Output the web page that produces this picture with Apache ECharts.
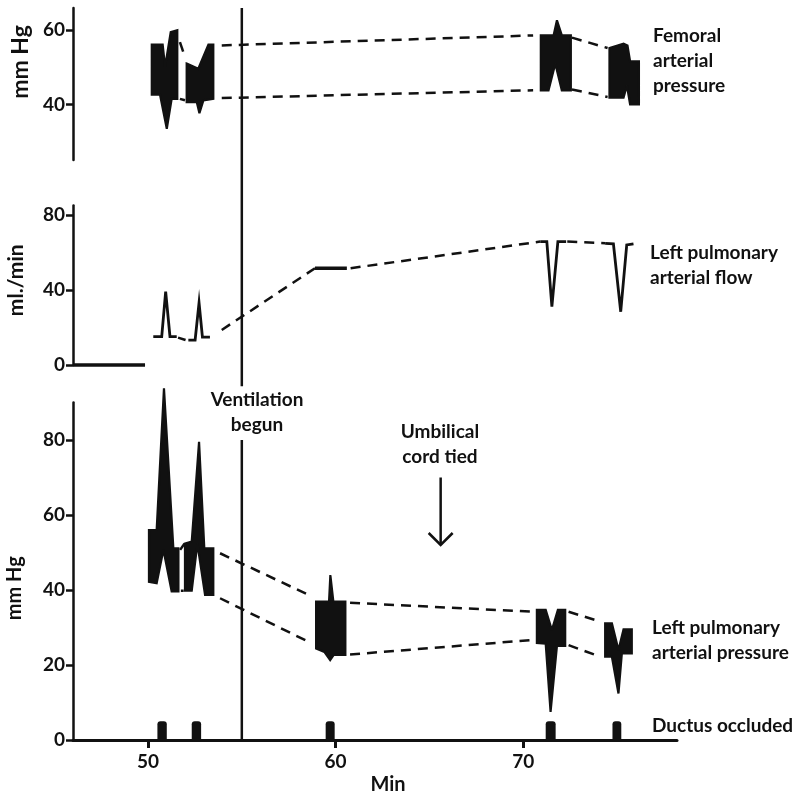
<!DOCTYPE html>
<html>
<head>
<meta charset="utf-8">
<script src="https://cdn.jsdelivr.net/npm/echarts@6/dist/echarts.min.js"></script>
<style>
  html, body { margin: 0; padding: 0; background: #fff; }
  #chart { width: 808px; height: 796px; }
</style>
</head>
<body>
<div id="chart"></div>
<script>
// time axis (min)
var timeMin = 46, timeMax = 78.2;
var timeTicks = [50, 60, 70];
var ventilationAt = 55;

// femoral arterial pressure, mm Hg: upper / lower edge of each burst
var femoralUpper = [
  [[50.2, 56.1], [50.78, 56.1], [50.91, 50.1], [51.21, 59.5], [51.56, 60]],
  [[52.06, 51.0], [52.68, 49.6], [53.22, 56.1], [53.48, 56.1]],
  [[70.94, 58.6], [71.62, 58.6], [71.8, 62.7], [72.06, 58.6], [72.54, 58.6]],
  [[74.6, 55.2], [75.35, 56.4], [75.56, 55.9], [75.7, 51.6], [76.17, 51.6]]
];
var femoralLower = [
  [[50.2, 42.6], [50.64, 42.6], [51.0, 33.4], [51.26, 41.5], [51.56, 41.5]],
  [[52.06, 40.6], [52.6, 40.6], [52.74, 37.6], [52.95, 41.1], [53.48, 41.5]],
  [[70.94, 43.8], [71.35, 43.8], [71.71, 51.0], [72.06, 43.8], [72.54, 43.8]],
  [[74.6, 41.8], [75.35, 41.8], [75.53, 45.1], [75.7, 40.0], [76.17, 40.0]]
];
var femoralDashes = [
  [[51.7, 56.8], [51.97, 52.8]],
  [[51.7, 41.5], [51.97, 41.1]],
  [[53.93, 55.9], [70.53, 58.6]],
  [[53.93, 41.7], [70.53, 43.8]],
  [[72.6, 58.0], [74.5, 55.2]],
  [[72.6, 44.0], [74.5, 42.0]]
];
var femoralTicks = [40, 60];

// left pulmonary arterial flow, ml./min
var flowSolid = [
  [[46, 0], [49.84, 0]],
  [[50.28, 15.1], [50.73, 15.1], [50.94, 39.1], [51.17, 15.1], [51.53, 15.1]],
  [[52.15, 13.3], [52.51, 13.3], [52.72, 33.2], [52.9, 14.9], [53.3, 14.9]],
  [[58.9, 51.6], [60.6, 51.6]],
  [[70.91, 65.8], [71.26, 65.8], [71.53, 31.1], [71.85, 65.8], [72.29, 65.8]],
  [[74.37, 64.9], [74.81, 64.6], [75.2, 28.4], [75.52, 64.0], [75.88, 64.6]]
];
var flowDashes = [
  [[51.6, 14.6], [52.0, 13.3]],
  [[53.93, 18.7], [58.9, 51.6]],
  [[60.8, 51.6], [70.91, 65.8]],
  [[72.35, 65.8], [74.37, 64.9]]
];
var flowTicks = [0, 40, 80];

// left pulmonary arterial pressure, mm Hg
var pulmUpper = [
  [[50.05, 56], [50.46, 56], [50.85, 93.8], [51.35, 51.1], [51.62, 51.1]],
  [[51.97, 52.4], [52.33, 52.9], [52.72, 79.5], [53.0, 51.1], [53.48, 51.1]],
  [[58.96, 36.9], [59.65, 36.9], [59.72, 44], [59.88, 36.9], [60.52, 36.9]],
  [[70.73, 34.7], [71.2, 34.7], [71.53, 29.3], [71.85, 34.7], [72.24, 34.7]],
  [[74.37, 31.1], [74.73, 31.1], [75.08, 24.0], [75.35, 29.5], [75.79, 29.5]]
];
var pulmLower = [
  [[50.05, 42.2], [50.46, 41.8], [50.82, 50.7], [51.26, 39.6], [51.62, 39.6]],
  [[51.97, 39.8], [52.33, 39.8], [52.63, 52.4], [53.04, 38.7], [53.48, 38.7]],
  [[58.96, 24.4], [59.4, 23.5], [59.71, 21.3], [59.9, 22.7], [60.52, 22.7]],
  [[70.73, 25.9], [71.2, 25.7], [71.46, 7.5], [71.8, 25.1], [72.24, 25.1]],
  [[74.37, 22.2], [74.73, 22.2], [75.08, 12.4], [75.26, 23.1], [75.79, 23.1]]
];
var pulmDashes = [
  [[51.71, 50.7], [51.95, 52.4]],
  [[51.75, 39.8], [51.9, 39.8]],
  [[53.84, 49.8], [58.55, 38.7]],
  [[53.84, 37.8], [58.55, 26.2]],
  [[60.77, 36.6], [70.55, 34.2]],
  [[60.77, 22.8], [70.55, 26.7]],
  [[72.42, 34.2], [74.11, 31.6]],
  [[72.42, 25.3], [74.11, 22.2]]
];
var pulmTicks = [0, 20, 40, 60, 80];

// ductus occluded (start, end in min)
var ductusStart = [50.5, 52.33, 59.47, 71.2, 74.76];
var ductusEnd = [51.0, 52.83, 59.95, 71.73, 75.23];
var ductusHeight = 5;

// ventilation line: top panel part runs down through the flow panel
var ventilationUpper = [[ventilationAt, 66], [ventilationAt, -36]];
var ventilationLower = [[ventilationAt, 0], [ventilationAt, 80]];
var umbilicalArrow = [[65.6, 70], [65.6, 52]];

var INK = '#111';
var FONT = 'Lato';

var myChart = echarts.init(document.getElementById('chart'));

function xAxisFor(idx, visible) {
  return {
    type: 'value', gridIndex: idx, min: timeMin, max: timeMax,
    show: visible,
    axisLine: { show: visible, onZero: false, lineStyle: { color: INK, width: 3 } },
    axisTick: { show: visible, length: 8, customValues: timeTicks, lineStyle: { color: INK, width: 3 } },
    axisLabel: { show: visible, customValues: timeTicks, margin: 12, color: INK, fontFamily: FONT, fontWeight: 'bold', fontSize: 19 },
    splitLine: { show: false },
    name: visible ? 'Min' : '',
    nameLocation: 'middle', nameGap: 35,
    nameTextStyle: { color: INK, fontFamily: FONT, fontWeight: 'bold', fontSize: 20, padding: [0, 0, 0, 26] }
  };
}

function yAxisFor(idx, min, max, ticks, name, nameSize, nameGap, namePad) {
  return {
    type: 'value', gridIndex: idx, min: min, max: max,
    axisLine: { show: true, lineStyle: { color: INK, width: 2.5 } },
    axisTick: { show: true, length: 7, customValues: ticks, lineStyle: { color: INK, width: 2.5 } },
    axisLabel: { customValues: ticks, margin: 8, color: INK, fontFamily: FONT, fontWeight: 'bold', fontSize: 19 },
    splitLine: { show: false },
    name: name, nameLocation: 'middle', nameRotate: 90, nameGap: nameGap,
    nameTextStyle: { color: INK, fontFamily: FONT, fontWeight: 'bold', fontSize: nameSize, padding: namePad }
  };
}

function lineSeries(idx, pts, dashed, width) {
  return {
    type: 'line', xAxisIndex: idx, yAxisIndex: idx, data: pts,
    symbol: 'none', clip: false, silent: true, animation: false,
    lineStyle: { color: INK, width: width || 2.5, type: dashed ? [10, 7] : 'solid', cap: 'butt', join: 'miter' }
  };
}

function burstSeries(idx, upper, lower) {
  return {
    type: 'custom', xAxisIndex: idx, yAxisIndex: idx, silent: true, animation: false,
    data: upper.map(function (u, i) { return [u[0][0], u[0][1], i]; }),
    renderItem: function (params, api) {
      var i = params.dataIndex;
      var pts = upper[i].concat(lower[i].slice().reverse()).map(function (p) { return api.coord(p); });
      return { type: 'polygon', shape: { points: pts }, style: { fill: INK, stroke: INK, lineWidth: 2.2, lineJoin: 'miter', miterLimit: 3 } };
    }
  };
}

var series = [];
series.push(burstSeries(0, femoralUpper, femoralLower));
femoralDashes.forEach(function (d) { series.push(lineSeries(0, d, true)); });
series.push(lineSeries(0, ventilationUpper, false, 2.5));

flowSolid.forEach(function (d, i) { series.push(lineSeries(1, d, false, (i === 0 || i === 3) ? 3.4 : 2.8)); });
flowDashes.forEach(function (d) { series.push(lineSeries(1, d, true)); });

series.push(burstSeries(2, pulmUpper, pulmLower));
pulmDashes.forEach(function (d) { series.push(lineSeries(2, d, true)); });
series.push(lineSeries(2, ventilationLower, false, 2.5));

series.push({
  type: 'custom', xAxisIndex: 2, yAxisIndex: 2, silent: true, animation: false,
  data: ductusStart.map(function (s, i) { return [s, ductusEnd[i]]; }),
  renderItem: function (params, api) {
    var p0 = api.coord([api.value(0), 0]);
    var p1 = api.coord([api.value(1), ductusHeight]);
    return { type: 'rect', shape: { x: p0[0], y: p1[1], width: p1[0] - p0[0], height: p0[1] - p1[1], r: [3, 3, 0, 0] }, style: { fill: INK } };
  }
});

series.push({
  type: 'custom', xAxisIndex: 2, yAxisIndex: 2, silent: true, animation: false,
  data: [umbilicalArrow[0].concat(umbilicalArrow[1])],
  renderItem: function (params, api) {
    var a = api.coord([api.value(0), api.value(1)]);
    var b = api.coord([api.value(2), api.value(3)]);
    var st = { stroke: INK, lineWidth: 2.5, fill: null };
    return { type: 'group', children: [
      { type: 'line', shape: { x1: a[0], y1: a[1], x2: b[0], y2: b[1] }, style: st },
      { type: 'polyline', shape: { points: [[b[0] - 12, b[1] - 12], [b[0], b[1]], [b[0] + 12, b[1] - 12]] }, style: st }
    ] };
  }
});

function label(x, y, text, align) {
  return {
    type: 'text', x: x, y: y, silent: true,
    style: { text: text, fill: INK, font: 'bold 19px ' + FONT, align: align || 'left', verticalAlign: 'middle', lineHeight: 25 }
  };
}

myChart.setOption({
  backgroundColor: '#fff',
  animation: false,
  grid: [
    { left: 73, width: 604, top: 8, height: 152, outerBoundsMode: 'none' },
    { left: 73, width: 604, top: 205.6, height: 159.4, outerBoundsMode: 'none' },
    { left: 73, width: 604, top: 402.5, height: 337.5, outerBoundsMode: 'none' }
  ],
  xAxis: [xAxisFor(0, false), xAxisFor(1, false), xAxisFor(2, true)],
  yAxis: [
    yAxisFor(0, 25, 66, femoralTicks, 'mm Hg', 23, 40, [0, 0, 0, 44]),
    yAxisFor(1, 0, 85, flowTicks, 'ml./min', 21, 46, [0, 0, 0, 10]),
    yAxisFor(2, 0, 90, pulmTicks, 'mm Hg', 20, 48, [0, 34, 0, 0])
  ],
  series: series,
  graphic: [
    label(653, 61, 'Femoral\narterial\npressure'),
    label(650, 265, 'Left pulmonary\narterial flow'),
    label(652, 640, 'Left pulmonary\narterial pressure'),
    label(652, 726, 'Ductus occluded'),
    label(257, 412, 'Ventilation\nbegun', 'center'),
    label(440, 444, 'Umbilical\ncord tied', 'center')
  ]
});

window.addEventListener('resize', function () {
  myChart.resize();
});
</script>
</body>
</html>
